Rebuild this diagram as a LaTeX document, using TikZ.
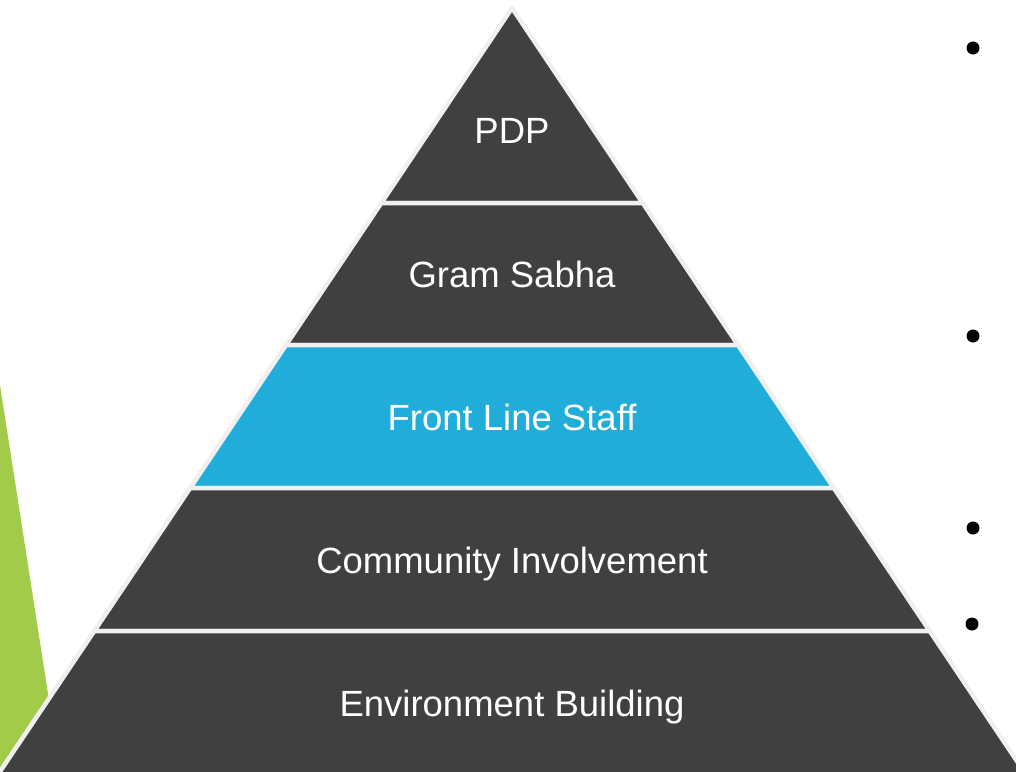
\documentclass[tikz,border=0pt]{standalone}
\usepackage{fontspec}
\setmainfont{Liberation Sans}
\definecolor{bandgray}{RGB}{64,64,64}
\definecolor{bandblue}{RGB}{33,173,217}
\definecolor{edgegray}{RGB}{240,240,240}
\definecolor{leafgreen}{RGB}{161,203,73}
\tikzset{
  band/.style={fill=bandgray, draw=edgegray, line width=4.5pt, line join=round},
  bandhi/.style={band, fill=bandblue},
  label/.style={text=white, font=\fontsize{36.5}{44}\selectfont, inner sep=0pt, anchor=base},
  bulletdot/.style={circle, fill=black, inner sep=0pt, minimum size=13pt}
}
\begin{document}
\begin{tikzpicture}[x=1pt,y=-1pt]
\useasboundingbox (0,0) rectangle (1016,771);
\clip (0,0) rectangle (1016,771);
% green accent behind the pyramid
\fill[leafgreen] (0,385) -- (49,700) -- (0,778) -- cycle;
% pyramid bands
\coordinate (apex) at (512,8);
\coordinate (l1) at (381.3,203); \coordinate (r1) at (642.7,203);
\coordinate (l2) at (286.0,345); \coordinate (r2) at (738.0,345);
\coordinate (l3) at (190.2,488); \coordinate (r3) at (833.8,488);
\coordinate (l4) at (94.3,631);  \coordinate (r4) at (929.7,631);
\coordinate (l5) at (-3.0,776);  \coordinate (r5) at (1027.0,776);
\draw[band]   (apex) -- (r1) -- (l1) -- cycle;
\draw[band]   (l1) -- (r1) -- (r2) -- (l2) -- cycle;
\draw[bandhi] (l2) -- (r2) -- (r3) -- (l3) -- cycle;
\draw[band]   (l3) -- (r3) -- (r4) -- (l4) -- cycle;
\draw[band]   (l4) -- (r4) -- (r5) -- (l5) -- cycle;
% labels
\node[label] (pdp)  at (512,143) {PDP};
\node[label] (gram) at (512,287) {Gram Sabha};
\node[label] (fls)  at (512,430) {Front Line Staff};
\node[label] (comm) at (512,573) {Community Involvement};
\node[label] (env)  at (512,716) {Environment Building};
% bullets
\node[bulletdot] (b1) at (973,48) {};
\node[bulletdot] (b2) at (973,336) {};
\node[bulletdot] (b3) at (973,528) {};
\node[bulletdot] (b4) at (972,624) {};
\end{tikzpicture}
\end{document}
